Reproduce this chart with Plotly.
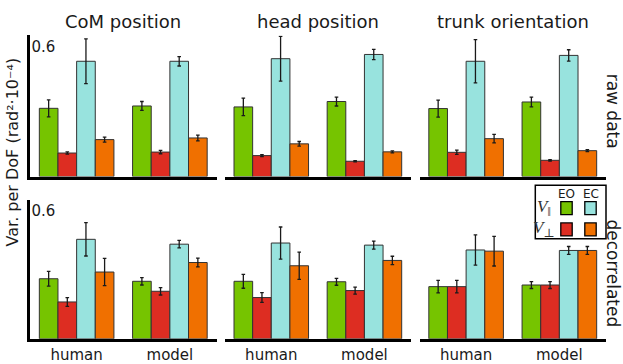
import plotly.graph_objects as go

W, H = 623, 364

# ---- data -------------------------------------------------------------
panels = ["CoM position", "head position", "trunk orientation"]
groups = ["human", "model"]
row_labels = ["raw data", "decorrelated"]
series_names = ["EO ‖", "EO ⊥", "EC ‖", "EC ⊥"]
series_colors = ["#76c400", "#dd2d22", "#98e3de", "#f07000"]

# raw data: one [human, model] pair per panel
raw_eo_par = [[0.290, 0.300], [0.296, 0.319], [0.289, 0.317]]
raw_eo_perp = [[0.100, 0.104], [0.089, 0.065], [0.103, 0.069]]
raw_ec_par = [[0.490, 0.490], [0.501, 0.519], [0.490, 0.515]]
raw_ec_perp = [[0.157, 0.164], [0.139, 0.105], [0.161, 0.110]]

raw_eo_par_err = [[0.036, 0.019], [0.037, 0.019], [0.036, 0.021]]
raw_eo_perp_err = [[0.005, 0.007], [0.004, 0.003], [0.009, 0.003]]
raw_ec_par_err = [[0.095, 0.020], [0.095, 0.022], [0.092, 0.024]]
raw_ec_perp_err = [[0.011, 0.012], [0.010, 0.004], [0.018, 0.004]]

# decorrelated data
dec_eo_par = [[0.259, 0.248], [0.248, 0.246], [0.225, 0.232]]
dec_eo_perp = [[0.159, 0.205], [0.178, 0.208], [0.225, 0.232]]
dec_ec_par = [[0.429, 0.408], [0.413, 0.404], [0.383, 0.381]]
dec_ec_perp = [[0.288, 0.329], [0.315, 0.338], [0.378, 0.381]]

dec_eo_par_err = [[0.032, 0.016], [0.030, 0.015], [0.027, 0.015]]
dec_eo_perp_err = [[0.019, 0.016], [0.021, 0.015], [0.027, 0.015]]
dec_ec_par_err = [[0.072, 0.016], [0.069, 0.017], [0.065, 0.017]]
dec_ec_perp_err = [[0.059, 0.019], [0.059, 0.018], [0.064, 0.017]]

y_max = 0.6

rows = [
    ([raw_eo_par, raw_eo_perp, raw_ec_par, raw_ec_perp],
     [raw_eo_par_err, raw_eo_perp_err, raw_ec_par_err, raw_ec_perp_err]),
    ([dec_eo_par, dec_eo_perp, dec_ec_par, dec_ec_perp],
     [dec_eo_par_err, dec_eo_perp_err, dec_ec_par_err, dec_ec_perp_err]),
]


def px_x(x):
    return x / W


def px_y(y):
    return 1 - y / H


# panel frames in pixels
col_px = [(30, 216.5), (224.7, 411), (419.5, 606)]
row_px = [(36, 179.5), (203, 344.5)]  # (top of 0.6, baseline)

FONT = "DejaVu Sans"
INK = "#1a1a1a"

fig = go.Figure()
layout = dict(
    width=W, height=H,
    margin=dict(l=0, r=0, t=0, b=0),
    paper_bgcolor="white", plot_bgcolor="white",
    barmode="group", bargap=0.2, bargroupgap=0.0,
    showlegend=False,
    font=dict(family=FONT, color=INK),
)

n = 0
for r, (vals, errs) in enumerate(rows):
    for c in range(3):
        n += 1
        xa = "x" if n == 1 else f"x{n}"
        ya = "y" if n == 1 else f"y{n}"
        for s in range(4):
            fig.add_trace(go.Bar(
                x=groups, y=vals[s][c], name=series_names[s],
                xaxis=xa, yaxis=ya,
                marker=dict(color=series_colors[s],
                            line=dict(color="#333333", width=1)),
                error_y=dict(type="data", array=errs[s][c], color=INK,
                             thickness=1.3, width=1.8),
            ))
        x0, x1 = col_px[c]
        ytop, ybase = row_px[r]
        layout["xaxis" if n == 1 else f"xaxis{n}"] = dict(
            domain=[px_x(x0), px_x(x1)], anchor=ya, type="category",
            range=[-0.5, len(groups) - 0.5], autorange=False,
            showline=True, linewidth=3, linecolor="black",
            ticks="", showgrid=False, zeroline=False,
            showticklabels=(r == 1),
            tickfont=dict(size=15, family=FONT, color=INK),
        )
        first_col = c == 0
        layout["yaxis" if n == 1 else f"yaxis{n}"] = dict(
            domain=[px_y(ybase), px_y(ytop)], anchor=xa,
            range=[0, y_max], autorange=False,
            showgrid=False, zeroline=False,
            showline=first_col, linewidth=3, linecolor="black",
            ticks="inside" if first_col else "", ticklen=5, tickwidth=2,
            tickcolor="black",
            tickvals=[y_max], ticktext=[f"{y_max:g}"],
            showticklabels=first_col, ticklabelposition="inside bottom",
            tickfont=dict(size=15, family=FONT, color=INK),
        )

annotations = []
# column titles
for c, name in enumerate(panels):
    x0, x1 = col_px[c]
    annotations.append(dict(
        text=name, x=px_x((x0 + x1) / 2), y=px_y(22), xref="paper",
        yref="paper", showarrow=False, xanchor="center", yanchor="middle",
        font=dict(size=18, family=FONT, color=INK)))
# row labels on the right
for r, label in enumerate(row_labels):
    yc = 112.5 if r == 0 else 278
    annotations.append(dict(
        text=label, x=px_x(625), y=px_y(yc), xref="paper", yref="paper",
        showarrow=False, textangle=90, xanchor="right", yanchor="middle",
        font=dict(size=17, family=FONT, color=INK)))
# shared y-axis title
annotations.append(dict(
    text="Var. per DoF (rad²·10⁻⁴)", x=px_x(12), y=px_y(155),
    xref="paper", yref="paper", showarrow=False, textangle=-90,
    xanchor="center", yanchor="middle",
    font=dict(size=16, family=FONT, color=INK)))

# key: EO / EC columns, parallel / perpendicular rows
shapes = [dict(type="rect", xref="paper", yref="paper",
               x0=px_x(535.3), x1=px_x(606), y0=px_y(242.7), y1=px_y(188.3),
               line=dict(color="black", width=1.5), fillcolor="white")]
key_cols = [566.5, 590.5]
key_rows = [211.7, 233.3]
for ci, head in enumerate(["EO", "EC"]):
    annotations.append(dict(
        text=head, x=px_x(key_cols[ci]), y=px_y(197), xref="paper",
        yref="paper", showarrow=False, xanchor="center", yanchor="middle",
        font=dict(size=12, family=FONT, color=INK)))
for ri, sym in enumerate(["<i>V</i><sub>‖</sub>", "<i>V</i><sub>⊥</sub>"]):
    annotations.append(dict(
        text=sym, x=px_x(544), y=px_y(key_rows[ri]), xref="paper",
        yref="paper", showarrow=False, xanchor="center", yanchor="middle",
        font=dict(size=17, family="Liberation Serif, DejaVu Serif",
                  color="#333333")))
    for ci in range(2):
        s = ci * 2 + ri
        cx, cy = key_cols[ci], key_rows[ri]
        shapes.append(dict(
            type="rect", xref="paper", yref="paper",
            x0=px_x(cx - 5.7), x1=px_x(cx + 5.7),
            y0=px_y(cy + 6.6), y1=px_y(cy - 6.6),
            line=dict(color="black", width=1.3),
            fillcolor=series_colors[s]))

layout["annotations"] = annotations
layout["shapes"] = shapes
fig.update_layout(**layout)
fig.write_html("out.html")
